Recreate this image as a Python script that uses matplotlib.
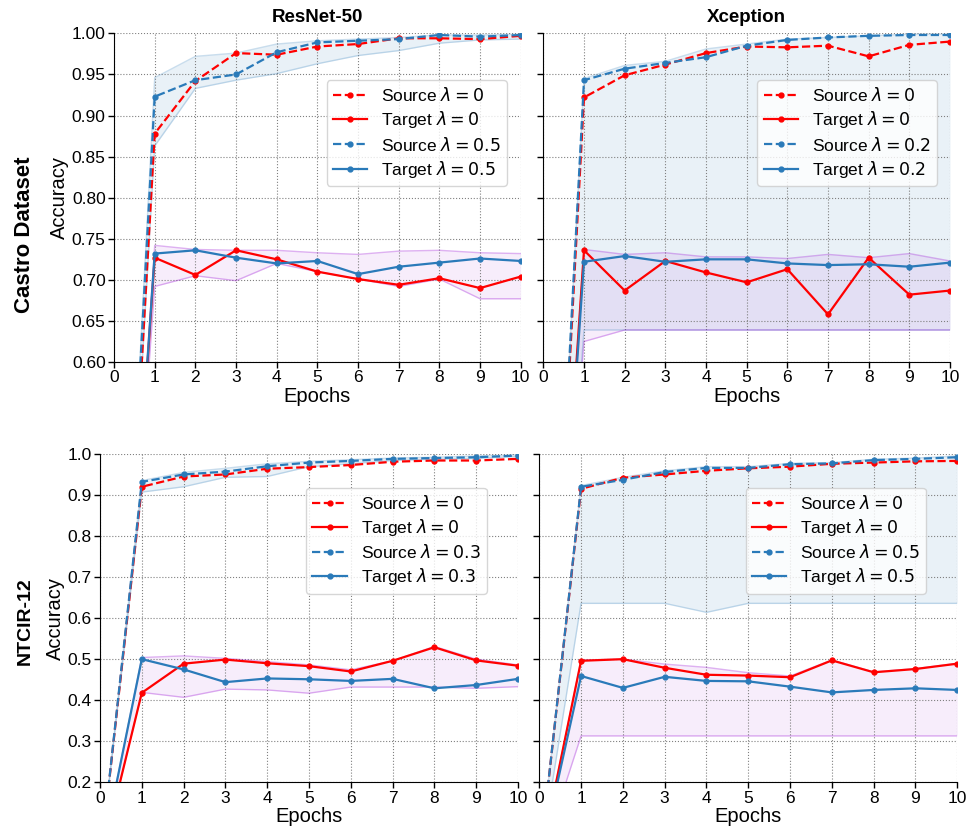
import matplotlib
matplotlib.use('Agg')
import matplotlib.pyplot as plt

plt.rcParams['font.family'] = ['Liberation Sans', 'DejaVu Sans']
plt.rcParams['mathtext.fontset'] = 'dejavusans'

epochs = list(range(11))

# Castro Dataset / ResNet-50
cr_src0 = [0, 0.878, 0.942, 0.976, 0.974, 0.984, 0.987, 0.994, 0.994, 0.993, 0.997]
cr_tgt0 = [0, 0.727, 0.706, 0.736, 0.725, 0.710, 0.701, 0.694, 0.702, 0.690, 0.704]
cr_src1 = [0, 0.923, 0.943, 0.950, 0.977, 0.989, 0.991, 0.993, 0.998, 0.996, 0.998]
cr_tgt1 = [0, 0.732, 0.736, 0.727, 0.720, 0.723, 0.707, 0.716, 0.721, 0.726, 0.723]
cr_src_lo = [0, 0.863, 0.933, 0.943, 0.951, 0.963, 0.973, 0.979, 0.988, 0.992, 0.993]
cr_src_hi = [0, 0.946, 0.972, 0.976, 0.987, 0.991, 0.993, 0.995, 0.998, 0.998, 0.999]
cr_tgt_lo = [0, 0.692, 0.705, 0.699, 0.720, 0.710, 0.701, 0.692, 0.701, 0.677, 0.677]
cr_tgt_hi = [0, 0.742, 0.737, 0.736, 0.736, 0.733, 0.731, 0.735, 0.736, 0.733, 0.732]

# Castro Dataset / Xception
cx_src0 = [0, 0.922, 0.949, 0.962, 0.976, 0.984, 0.983, 0.985, 0.972, 0.986, 0.990]
cx_tgt0 = [0, 0.736, 0.687, 0.723, 0.709, 0.697, 0.713, 0.658, 0.727, 0.682, 0.687]
cx_src1 = [0, 0.943, 0.957, 0.964, 0.971, 0.985, 0.992, 0.995, 0.997, 0.998, 0.998]
cx_tgt1 = [0, 0.722, 0.729, 0.722, 0.725, 0.725, 0.720, 0.718, 0.719, 0.716, 0.721]
cx_src_lo = [0, 0.639, 0.639, 0.639, 0.639, 0.639, 0.639, 0.639, 0.639, 0.639, 0.639]
cx_src_hi = [0, 0.945, 0.961, 0.966, 0.981, 0.987, 0.993, 0.995, 0.997, 0.999, 0.999]
cx_tgt_lo = [0, 0.625, 0.639, 0.639, 0.639, 0.639, 0.639, 0.639, 0.639, 0.639, 0.639]
cx_tgt_hi = [0, 0.737, 0.731, 0.733, 0.728, 0.728, 0.726, 0.731, 0.727, 0.732, 0.723]

# NTCIR-12 / ResNet-50
nr_src0 = [0, 0.920, 0.945, 0.950, 0.964, 0.968, 0.973, 0.981, 0.984, 0.984, 0.988]
nr_tgt0 = [0, 0.418, 0.489, 0.499, 0.490, 0.483, 0.470, 0.496, 0.529, 0.497, 0.484]
nr_src1 = [0, 0.932, 0.950, 0.957, 0.970, 0.979, 0.983, 0.988, 0.990, 0.992, 0.996]
nr_tgt1 = [0, 0.500, 0.475, 0.444, 0.453, 0.451, 0.447, 0.452, 0.429, 0.437, 0.452]
nr_src_lo = [0, 0.907, 0.920, 0.943, 0.945, 0.969, 0.976, 0.984, 0.987, 0.989, 0.994]
nr_src_hi = [0, 0.935, 0.955, 0.965, 0.976, 0.982, 0.986, 0.990, 0.992, 0.995, 0.998]
nr_tgt_lo = [0, 0.419, 0.407, 0.427, 0.425, 0.417, 0.432, 0.432, 0.432, 0.429, 0.433]
nr_tgt_hi = [0, 0.504, 0.508, 0.502, 0.494, 0.486, 0.474, 0.496, 0.531, 0.500, 0.486]

# NTCIR-12 / Xception
nx_src0 = [0, 0.915, 0.942, 0.950, 0.959, 0.965, 0.969, 0.976, 0.979, 0.982, 0.983]
nx_tgt0 = [0, 0.496, 0.500, 0.479, 0.462, 0.460, 0.456, 0.497, 0.468, 0.476, 0.489]
nx_src1 = [0, 0.920, 0.937, 0.956, 0.966, 0.966, 0.975, 0.977, 0.985, 0.988, 0.992]
nx_tgt1 = [0, 0.459, 0.430, 0.457, 0.447, 0.446, 0.433, 0.419, 0.425, 0.429, 0.425]
nx_src_lo = [0, 0.636, 0.636, 0.636, 0.614, 0.636, 0.636, 0.636, 0.636, 0.636, 0.636]
nx_src_hi = [0, 0.923, 0.943, 0.959, 0.969, 0.969, 0.977, 0.979, 0.987, 0.990, 0.995]
nx_tgt_lo = [0, 0.313, 0.313, 0.313, 0.313, 0.313, 0.313, 0.313, 0.313, 0.313, 0.313]
nx_tgt_hi = [0, 0.498, 0.500, 0.488, 0.480, 0.467, 0.459, 0.498, 0.469, 0.477, 0.490]

panels = [
    dict(pos=[0.1178, 0.5659, 0.4201, 0.3941], lam='0.5', title='ResNet-50',
         data=(cr_src0, cr_tgt0, cr_src1, cr_tgt1, cr_src_lo, cr_src_hi, cr_tgt_lo, cr_tgt_hi),
         ylim=(0.6, 1.0), yticks=[0.60, 0.65, 0.70, 0.75, 0.80, 0.85, 0.90, 0.95, 1.00], fmt='%.2f',
         leg=(0.966, 0.858), ylab=True),
    dict(pos=[0.5613, 0.5659, 0.4201, 0.3941], lam='0.2', title='Xception',
         data=(cx_src0, cx_tgt0, cx_src1, cx_tgt1, cx_src_lo, cx_src_hi, cx_tgt_lo, cx_tgt_hi),
         ylim=(0.6, 1.0), yticks=[0.60, 0.65, 0.70, 0.75, 0.80, 0.85, 0.90, 0.95, 1.00], fmt='%.2f',
         leg=(0.967, 0.858), ylab=False),
    dict(pos=[0.1033, 0.0620, 0.4318, 0.3937], lam='0.3', title=None,
         data=(nr_src0, nr_tgt0, nr_src1, nr_tgt1, nr_src_lo, nr_src_hi, nr_tgt_lo, nr_tgt_hi),
         ylim=(0.2, 1.0), yticks=[0.2, 0.3, 0.4, 0.5, 0.6, 0.7, 0.8, 0.9, 1.0], fmt='%.1f',
         leg=(0.925, 0.897), ylab=True),
    dict(pos=[0.5571, 0.0620, 0.4318, 0.3937], lam='0.5', title=None,
         data=(nx_src0, nx_tgt0, nx_src1, nx_tgt1, nx_src_lo, nx_src_hi, nx_tgt_lo, nx_tgt_hi),
         ylim=(0.2, 1.0), yticks=[0.2, 0.3, 0.4, 0.5, 0.6, 0.7, 0.8, 0.9, 1.0], fmt='%.1f',
         leg=(0.925, 0.897), ylab=False),
]

blue = '#2a7ab9'
red = '#ff0000'
purple = '#9400d3'

fig = plt.figure(figsize=(9.68, 8.34), dpi=100)

for p in panels:
    ax = fig.add_axes(p['pos'])
    src0, tgt0, src1, tgt1, slo, shi, tlo, thi = p['data']

    # shaded bands
    ax.fill_between(epochs, slo, shi, color=blue, alpha=0.1, linewidth=0)
    ax.plot(epochs, slo, color=blue, alpha=0.25, linewidth=1)
    ax.plot(epochs, shi, color=blue, alpha=0.25, linewidth=1)
    ax.fill_between(epochs, tlo, thi, color=purple, alpha=0.07, linewidth=0)
    ax.plot(epochs, tlo, color=purple, alpha=0.3, linewidth=1)
    ax.plot(epochs, thi, color=purple, alpha=0.3, linewidth=1)

    ax.plot(epochs, src0, '--', color=red, marker='o', markersize=3.5, linewidth=1.6,
            label=r'Source $\lambda = 0$')
    ax.plot(epochs, tgt0, '-', color=red, marker='o', markersize=3.5, linewidth=1.6,
            label=r'Target $\lambda = 0$')
    ax.plot(epochs, src1, '--', color=blue, marker='o', markersize=3.5, linewidth=1.6,
            label=r'Source $\lambda = %s$' % p['lam'])
    ax.plot(epochs, tgt1, '-', color=blue, marker='o', markersize=3.5, linewidth=1.6,
            label=r'Target $\lambda = %s$' % p['lam'])

    ax.set_xlim(0, 10)
    ax.set_ylim(*p['ylim'])
    ax.set_xticks(epochs)
    ax.set_yticks(p['yticks'])
    if p['ylab']:
        ax.set_yticklabels([p['fmt'] % v for v in p['yticks']])
        ax.set_ylabel('Accuracy', fontsize=14.5, labelpad=2)
    else:
        ax.set_yticklabels([])
    ax.set_xlabel('Epochs', fontsize=14.5, labelpad=1)
    ax.tick_params(labelsize=12.5, length=4, width=1, pad=2)
    ax.grid(True, linestyle=':', color='gray', linewidth=0.8)
    ax.spines['top'].set_visible(False)
    ax.spines['right'].set_visible(False)
    if p['title']:
        ax.set_title(p['title'], fontsize=13.5, fontweight='bold', pad=8)
    ax.legend(loc='upper right', bbox_to_anchor=p['leg'], borderaxespad=0,
              fontsize=12.5, handlelength=2.0, labelspacing=0.3, borderpad=0.35,
              framealpha=0.8)

fig.text(0.025, 0.718, 'Castro Dataset', rotation=90, fontsize=16, fontweight='bold',
         ha='center', va='center')
fig.text(0.026, 0.255, 'NTCIR-12', rotation=90, fontsize=14, fontweight='bold',
         ha='center', va='center')

fig.savefig('out.png', dpi=100)
